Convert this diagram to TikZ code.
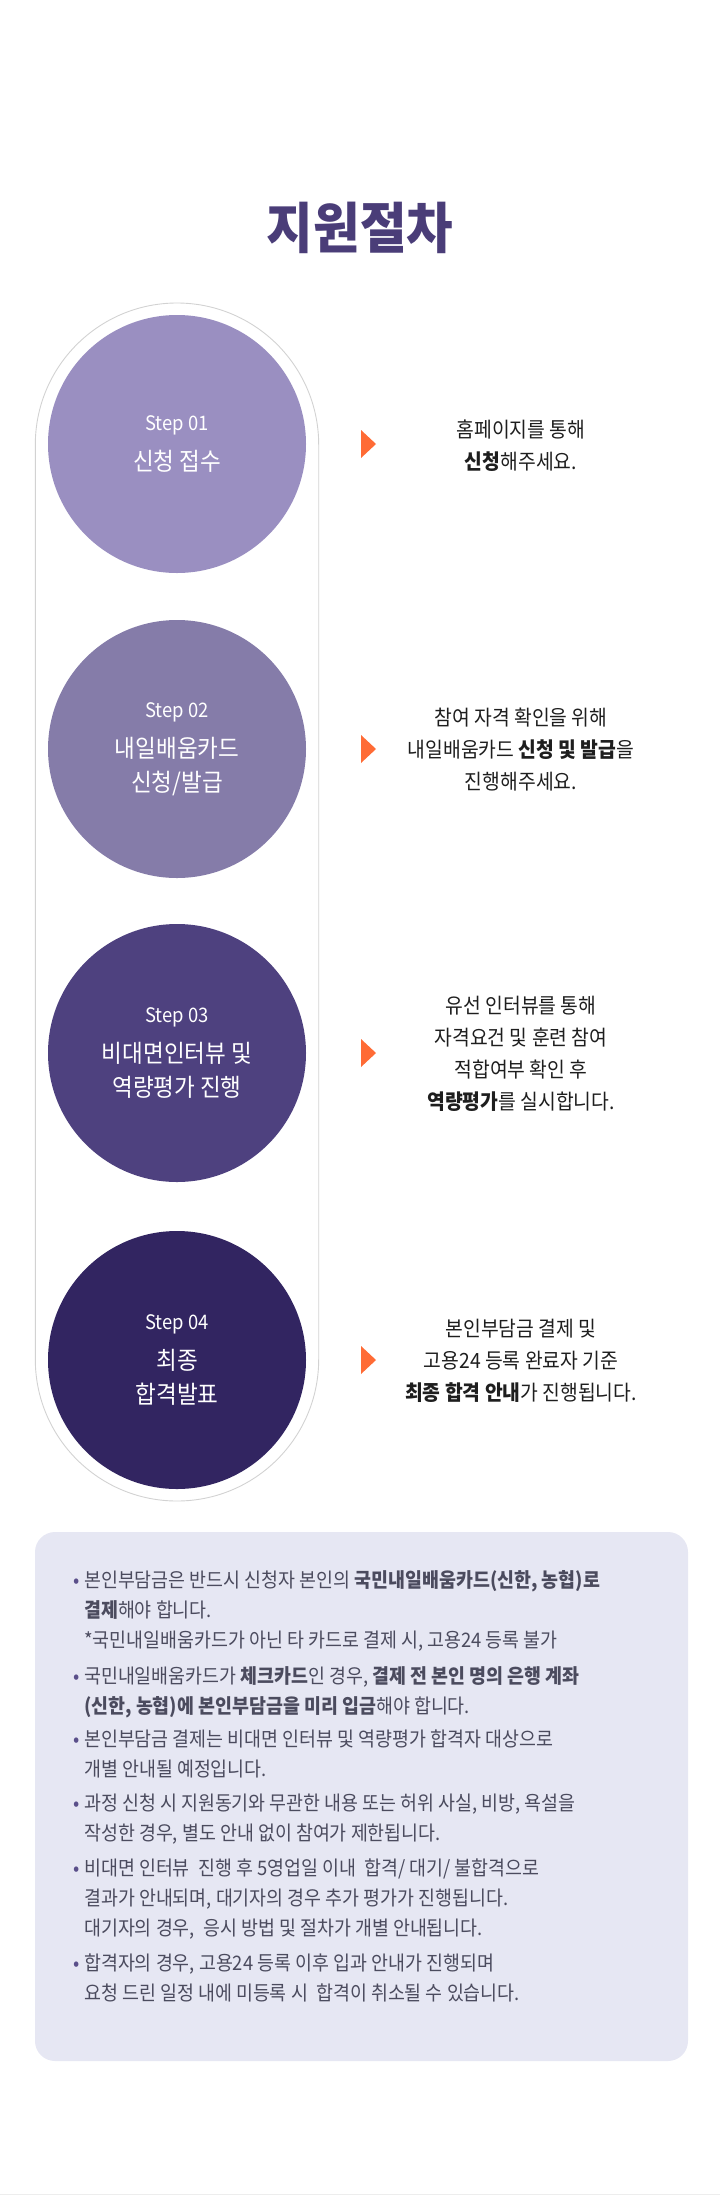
\documentclass[tikz,border=0pt]{standalone}
\usepackage{fontspec}
\setmainfont{Noto Sans CJK KR}[FakeStretch=0.92]
\usepackage{xcolor}
\usetikzlibrary{positioning,backgrounds}

\definecolor{titleink}{HTML}{4A3D78}
\definecolor{stepA}{HTML}{9A8FC1}
\definecolor{stepB}{HTML}{857CA9}
\definecolor{stepC}{HTML}{4E417F}
\definecolor{stepD}{HTML}{322561}
\definecolor{markorange}{HTML}{FF6B35}
\definecolor{capgray}{HTML}{D2D2D2}
\definecolor{noteback}{HTML}{E6E7F3}
\definecolor{noteink}{HTML}{4B4B5E}
\definecolor{bulletink}{HTML}{5A4F8A}
\definecolor{descink}{HTML}{1E1E1E}

\begin{document}
\begin{tikzpicture}[x=1pt,y=-1pt,
  stepc/.style={circle, minimum size=258pt, inner sep=0pt, align=center, text=white, font=\fontsize{24.5}{34}\selectfont},
  desc/.style={align=center, text=descink, font=\fontsize{21}{32}\selectfont},
  item/.style={align=left, anchor=north west, inner sep=0pt, text=noteink, font=\fontsize{20}{30}\selectfont},
  marker/.style={fill=markorange},
  capsule/.style={draw=capgray, line width=0.9pt, rounded corners=141.7pt}
]
\useasboundingbox (0,0) rectangle (720,2195);

% title
\node[text=titleink, font=\fontsize{55}{55}\selectfont\bfseries] (title) at (360,228) {지원절차};

% capsule behind the steps
\draw[capsule] (35.3,303) rectangle (318.7,1501);

% step circles
\node[stepc, fill=stepA] (s1) at (177,444) {{\fontsize{20}{34}\selectfont Step 01}\\[6pt]신청 접수};
\node[stepc, fill=stepB] (s2) at (177,749) {{\fontsize{20}{34}\selectfont Step 02}\\[6pt]내일배움카드\\신청/발급};
\node[stepc, fill=stepC] (s3) at (177,1053) {{\fontsize{20}{34}\selectfont Step 03}\\[6pt]비대면인터뷰 및\\역량평가 진행};
\node[stepc, fill=stepD] (s4) at (177,1360) {{\fontsize{20}{34}\selectfont Step 04}\\[6pt]최종\\합격발표};

% orange markers
\fill[marker] (361,430) -- (376,444) -- (361,458) -- cycle;
\fill[marker] (361,735) -- (376,749) -- (361,763) -- cycle;
\fill[marker] (361,1039) -- (376,1053) -- (361,1067) -- cycle;
\fill[marker] (361,1346) -- (376,1360) -- (361,1374) -- cycle;

% step descriptions
\node[desc] (d1) at (521,446) {홈페이지를 통해\\\textbf{신청}해주세요.};
\node[desc] (d2) at (521,750) {참여 자격 확인을 위해\\내일배움카드 \textbf{신청 및 발급}을\\진행해주세요.};
\node[desc] (d3) at (521,1054) {유선 인터뷰를 통해\\자격요건 및 훈련 참여\\적합여부 확인 후\\\textbf{역량평가}를 실시합니다.};
\node[desc] (d4) at (521,1361) {본인부담금 결제 및\\고용24 등록 완료자 기준\\\textbf{최종 합격 안내}가 진행됩니다.};

% notice box
\fill[noteback, rounded corners=20pt] (35,1532) rectangle (688,2061);

\node[item] (b1) at (73,1570) {\makebox[11pt][l]{\color{bulletink}•}본인부담금은 반드시 신청자 본인의 \textbf{국민내일배움카드(신한, 농협)로}\\
  \hspace*{11pt}\textbf{결제}해야 합니다.\\
  \hspace*{11pt}*국민내일배움카드가 아닌 타 카드로 결제 시, 고용24 등록 불가};
\node[item] (b2) at (73,1666) {\makebox[11pt][l]{\color{bulletink}•}국민내일배움카드가 \textbf{체크카드}인 경우, \textbf{결제 전 본인 명의 은행 계좌}\\
  \hspace*{11pt}\textbf{(신한, 농협)에 본인부담금을 미리 입금}해야 합니다.};
\node[item] (b3) at (73,1730) {\makebox[11pt][l]{\color{bulletink}•}본인부담금 결제는 비대면 인터뷰 및 역량평가 합격자 대상으로\\
  \hspace*{11pt}개별 안내될 예정입니다.};
\node[item] (b4) at (73,1794) {\makebox[11pt][l]{\color{bulletink}•}과정 신청 시 지원동기와 무관한 내용 또는 허위 사실, 비방, 욕설을\\
  \hspace*{11pt}작성한 경우, 별도 안내 없이 참여가 제한됩니다.};
\node[item] (b5) at (73,1859) {\makebox[11pt][l]{\color{bulletink}•}비대면 인터뷰\ \ 진행 후 5영업일 이내\ \ 합격/ 대기/ 불합격으로\\
  \hspace*{11pt}결과가 안내되며, 대기자의 경우 추가 평가가 진행됩니다.\\
  \hspace*{11pt}대기자의 경우,\ \ 응시 방법 및 절차가 개별 안내됩니다.};
\node[item] (b6) at (73,1954) {\makebox[11pt][l]{\color{bulletink}•}합격자의 경우, 고용24 등록 이후 입과 안내가 진행되며\\
  \hspace*{11pt}요청 드린 일정 내에 미등록 시\ \ 합격이 취소될 수 있습니다.};

% bottom edge
\draw[black!7] (0,2194.5) -- (720,2194.5);
\end{tikzpicture}
\end{document}
